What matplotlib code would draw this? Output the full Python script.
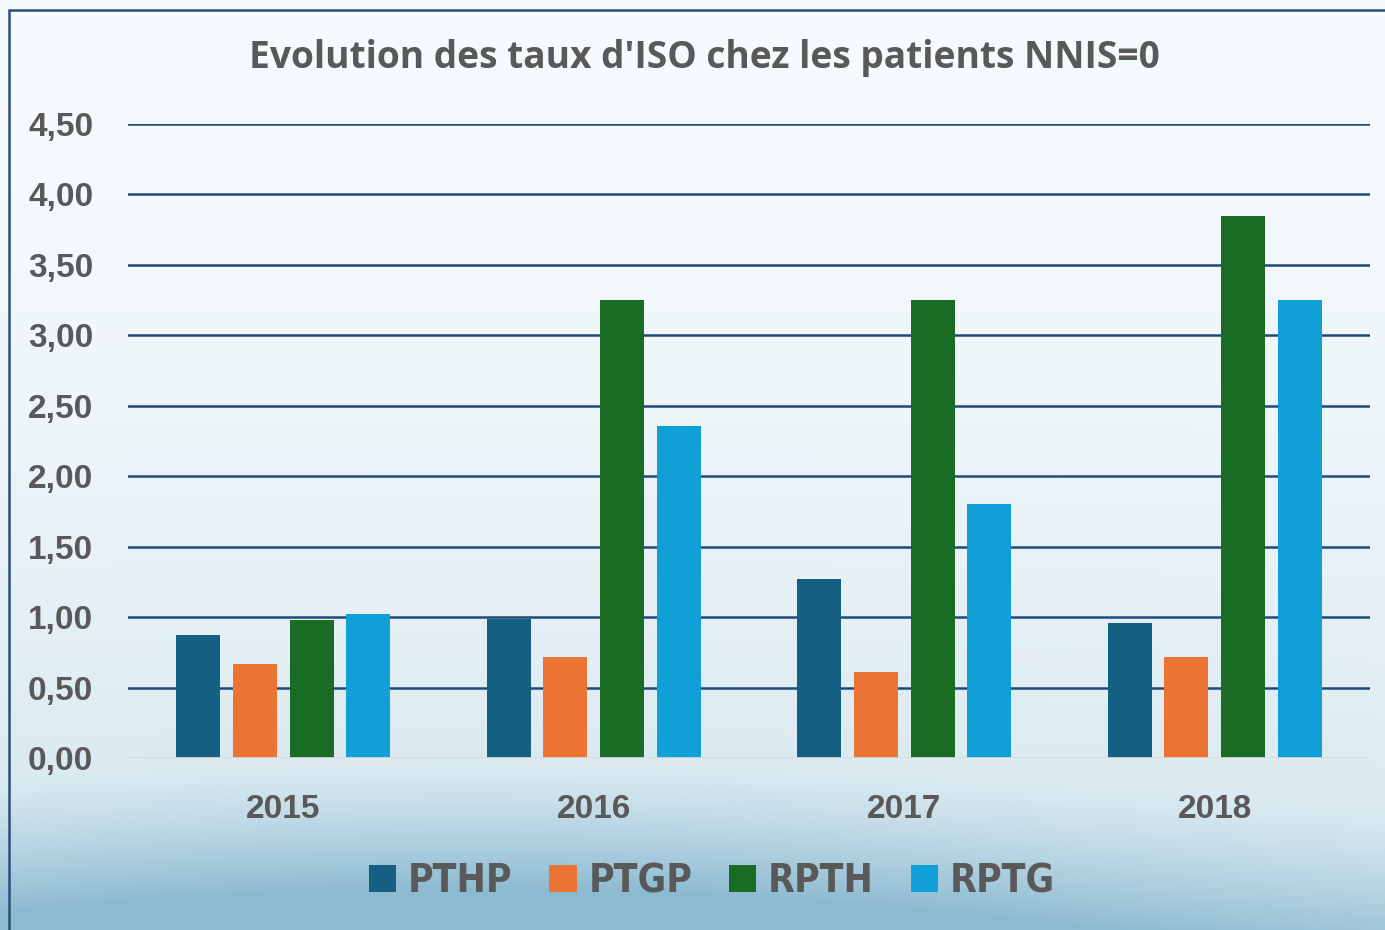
import numpy as np
import matplotlib.pyplot as plt
from matplotlib.patches import Rectangle, Patch

# data
years = ['2015', '2016', '2017', '2018']
series = ['PTHP', 'PTGP', 'RPTH', 'RPTG']
pthp = [0.87, 0.99, 1.27, 0.96]
ptgp = [0.67, 0.72, 0.61, 0.72]
rpth = [0.98, 3.25, 3.25, 3.85]
rptg = [1.02, 2.36, 1.80, 3.25]
colors = ['#155f83', '#eb7333', '#1a6b24', '#119fd8']
yticks = [0, 0.5, 1, 1.5, 2, 2.5, 3, 3.5, 4, 4.5]

txt_color = '#595959'
label_font = 'Liberation Sans'

fig = plt.figure(figsize=(13.85, 9.3), dpi=100)

# background gradient with a soft wave near the bottom
bg = fig.add_axes([0, 0, 1, 1], zorder=-10)
h, w = 930, 1385
yy, xx = np.mgrid[0:h, 0:w]
t = yy / h
wave = 0.05 * np.sin(xx / w * np.pi * 1.1 + 0.4)
t = np.clip(t + wave * t ** 3, 0, 1)
top = np.array([0.965, 0.982, 0.993])
mid = np.array([0.86, 0.92, 0.945])
bot = np.array([0.55, 0.73, 0.82])
k1 = np.clip(t / 0.84, 0, 1)[..., None]
k2 = np.clip((t - 0.84) / 0.16, 0, 1)[..., None]
img = top + (mid - top) * k1 ** 1.8 + (bot - mid) * k2 ** 1.3
bg.imshow(img, aspect='auto', extent=[0, 1, 0, 1])
bg.axis('off')
bg.add_patch(Rectangle((9 / w, -0.1), 1.1, 1 - 10 / h + 0.1, fill=False,
                       edgecolor='#2b4f7c', linewidth=1.8, transform=bg.transAxes))

ax = fig.add_axes([128 / w, 172 / h, 1242 / w, 634 / h])
ax.patch.set_alpha(0)

x = np.arange(len(years))
step = 0.1826
width = 0.142
for i, (name, vals) in enumerate(zip(series, [pthp, ptgp, rpth, rptg])):
    ax.bar(x + (i - 1.5) * step, vals, width, color=colors[i], label=name, zorder=3)

ax.set_xlim(-0.5, 3.5)
ax.set_ylim(0, 4.5)
ax.set_yticks(yticks)
ax.set_yticklabels([f'{v:.2f}'.replace('.', ',') for v in yticks])
ax.set_xticks(x)
ax.set_xticklabels(years)
for y in yticks[1:]:
    ax.axhline(y, color='#1f4a78', linewidth=1.8, zorder=1)
ax.axhline(0, color='#d9d9d9', linewidth=2, zorder=4)
for s in ax.spines.values():
    s.set_visible(False)
ax.tick_params(length=0)
ax.tick_params(axis='y', pad=25)
ax.tick_params(axis='x', pad=26)
for lab in ax.get_yticklabels():
    lab.set_fontfamily(label_font)
    lab.set_fontweight('bold')
    lab.set_fontsize(24)
    lab.set_color(txt_color)
for lab in ax.get_xticklabels():
    lab.set_fontfamily(label_font)
    lab.set_fontweight('bold')
    lab.set_fontsize(24)
    lab.set_color(txt_color)

fig.text(704 / w, 1 - 58 / h, "Evolution des taux d'ISO chez les patients NNIS=0",
         ha='center', va='center', fontsize=26.7, fontweight='bold',
         family='Open Sans', color=txt_color)

handles = [Patch(facecolor=c) for c in colors]
leg = fig.legend(handles, series, loc='center', bbox_to_anchor=(712 / w, 1 - 881 / h),
                 ncol=4, frameon=False, handlelength=0.7, handleheight=0.7,
                 handletextpad=0.3, columnspacing=0.95,
                 prop={'family': 'DejaVu Sans', 'stretch': 'condensed',
                       'weight': 'bold', 'size': 28})
for t_ in leg.get_texts():
    t_.set_color(txt_color)

fig.savefig('out.png', dpi=100)
